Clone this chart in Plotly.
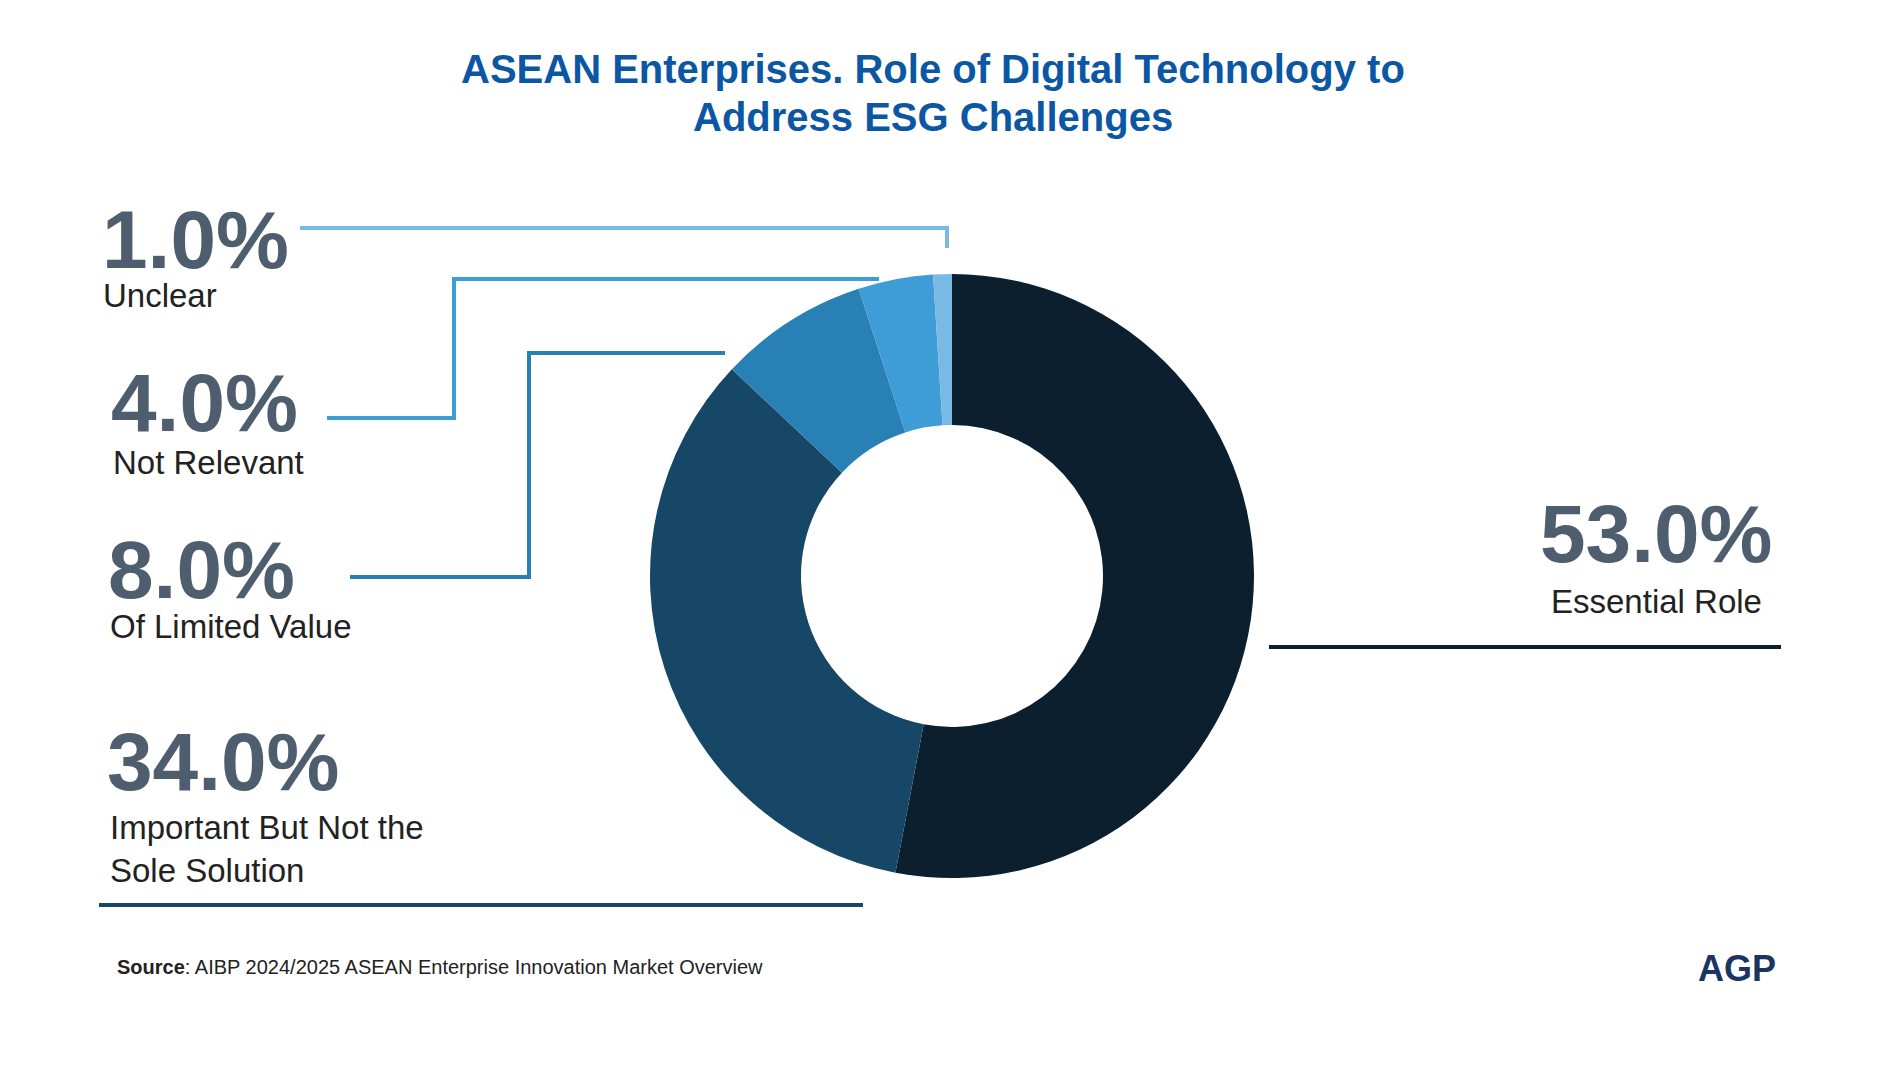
import plotly.graph_objects as go

# data
categories = ["Essential Role", "Important But Not the<br>Sole Solution",
              "Of Limited Value", "Not Relevant", "Unclear"]
values = [53.0, 34.0, 8.0, 4.0, 1.0]
colors = ["#0B1F2E", "#164766", "#2880B5", "#3E9CD6", "#7AB9E3"]
title_lines = ["ASEAN Enterprises. Role of Digital Technology to", "Address ESG Challenges"]

W, H = 1902, 1072
FONT = "Liberation Sans, Arial, sans-serif"
PCT_COLOR = "#4E5E6F"
LBL_COLOR = "#222222"


def px(x):
    return x / W


def py(y):
    return 1 - y / H


cx, cy, r = 952, 576, 302

fig = go.Figure(go.Pie(
    labels=categories,
    values=values,
    marker=dict(colors=colors, line=dict(width=0)),
    hole=0.5,
    sort=False,
    direction="clockwise",
    rotation=0,
    textinfo="none",
    hoverinfo="label+percent",
    showlegend=False,
    domain=dict(x=[px(cx - r), px(cx + r)], y=[py(cy + r), py(cy - r)]),
))

# connector lines (pixel paths)
paths = [
    ([(300, 228), (947, 228), (947, 248)], colors[4], 4),
    ([(327, 418), (454, 418), (454, 279), (879, 279)], colors[3], 4),
    ([(350, 577), (529, 577), (529, 353), (725, 353)], colors[2], 4),
    ([(99, 905), (863, 905)], colors[1], 4),
    ([(1269, 647), (1781, 647)], colors[0], 4),
]
shapes = []
for pts, col, w in paths:
    d = "M " + " L ".join(f"{px(x):.5f},{py(y):.5f}" for x, y in pts)
    shapes.append(dict(type="path", path=d, xref="paper", yref="paper",
                       line=dict(color=col, width=w), fillcolor="rgba(0,0,0,0)"))

annotations = []


def add_text(text, x, y, size, color, xanchor="left", bold=False):
    if bold:
        text = f"<b>{text}</b>"
    annotations.append(dict(text=text, x=px(x), y=py(y), xref="paper", yref="paper",
                            xanchor=xanchor, yanchor="middle", showarrow=False,
                            align=xanchor if xanchor != "center" else "center",
                            font=dict(family=FONT, size=size, color=color)))


pct = [f"{v:.1f}%" for v in values]
PS = 82

# left side labels (Unclear, Not Relevant, Of Limited Value, Important)
add_text(pct[4], 100, 240, PS, PCT_COLOR, bold=True)
add_text(categories[4], 101, 295, 33, LBL_COLOR)
add_text(pct[3], 109, 402, PS, PCT_COLOR, bold=True)
add_text(categories[3], 111, 462, 33, LBL_COLOR)
add_text(pct[2], 106, 569, PS, PCT_COLOR, bold=True)
add_text(categories[2], 108, 626, 33, LBL_COLOR)
add_text(pct[1], 105, 761, PS, PCT_COLOR, bold=True)
add_text(categories[1], 108, 849, 33, LBL_COLOR)

# right side label (Essential Role)
add_text(pct[0], 1656, 533, PS, PCT_COLOR, xanchor="center", bold=True)
add_text(categories[0], 1656, 601, 33, LBL_COLOR, xanchor="center")

# title
add_text(title_lines[0], 933, 69, 40, "#0B57A4", xanchor="center", bold=True)
add_text(title_lines[1], 933, 117, 40, "#0B57A4", xanchor="center", bold=True)

# source + logo
add_text("<b>Source</b>: AIBP 2024/2025 ASEAN Enterprise Innovation Market Overview",
         115, 967, 20, LBL_COLOR)
add_text("AGP", 1778, 968, 36, "#1B3464", xanchor="right", bold=True)

fig.update_layout(
    width=W, height=H,
    margin=dict(l=0, r=0, t=0, b=0),
    paper_bgcolor="white",
    plot_bgcolor="white",
    shapes=shapes,
    annotations=annotations,
)

fig.write_html("out.html", config={"displayModeBar": False},
               post_script="document.body.style.margin='0';")
